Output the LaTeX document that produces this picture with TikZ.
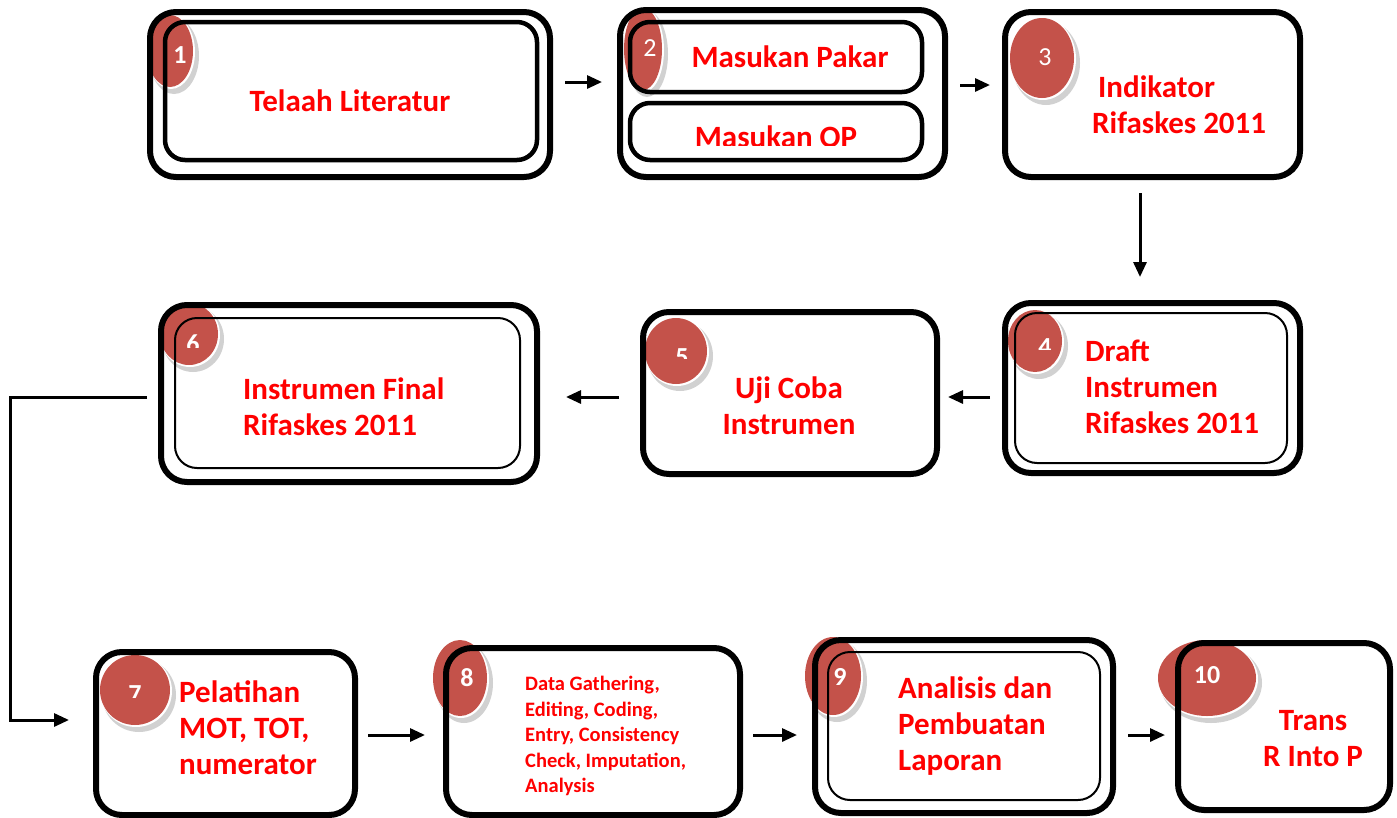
\documentclass[tikz,border=0pt]{standalone}
\usepackage{fontspec}
\setmainfont{Carlito}
\usetikzlibrary{arrows.meta}
\definecolor{txtred}{RGB}{255,0,0}
\definecolor{badgered}{RGB}{196,82,74}
\tikzset{
  box/.style={draw,line width=6pt,rounded corners=26pt,inner sep=0pt},
  inbox/.style={draw,line width=4.5pt,rounded corners=20pt,inner sep=0pt},
  thinbox/.style={draw,line width=2pt,rounded corners=22pt,inner sep=0pt},
  lbl/.style={text=txtred,font=\bfseries\fontsize{31}{36}\selectfont,inner sep=0pt},
  small lbl/.style={text=txtred,font=\bfseries\fontsize{20.5}{25.5}\selectfont,inner sep=0pt,align=left},
  num/.style={text=white,inner sep=0pt},
  flow/.style={-{Triangle[length=15pt,width=13pt]},line width=3pt},
}

\begin{document}
\begin{tikzpicture}[x=1pt,y=-1pt]
  \useasboundingbox (0,0) rectangle (1397,817);
  % badges
  \foreach \cx/\cy/\rx/\ry in {170/51/23/36,643/49/19/41,1042/58/32/40,1035/341/27/31,
      676/351/31/33,189/334/29/31,135/690/35/35,460/678/27/38,833/676/28/39,1207/678/49/38}{
    \fill[black!18] (\cx+4,\cy+5) ellipse ({\rx+2} and {\ry+2});
    \fill[white] (\cx+1,\cy+1) ellipse ({\rx+1} and {\ry+1});
    \fill[badgered] (\cx,\cy) ellipse ({\rx} and {\ry});
  }
  % boxes
  \node[box,minimum width=400pt,minimum height=165pt] (b1) at (350,94.5) {};
  \node[inbox,minimum width=372pt,minimum height=138pt] (b1i) at (351,91) {};
  \node[box,minimum width=325pt,minimum height=167pt] (b2) at (782.5,93.5) {};
  \node[inbox,minimum width=292pt,minimum height=70pt] (b2a) at (776,57) {};
  \node[inbox,minimum width=292pt,minimum height=57pt] (b2b) at (776,131.5) {};
  \node[box,minimum width=295pt,minimum height=165pt] (b3) at (1152.5,94.5) {};
  \node[box,minimum width=295pt,minimum height=170pt] (b4) at (1152.5,388) {};
  \node[thinbox,minimum width=272pt,minimum height=150pt] (b4i) at (1151,388) {};
  \node[box,minimum width=294pt,minimum height=162pt] (b5) at (790,393) {};
  \node[box,minimum width=376pt,minimum height=177pt] (b6) at (349,393.5) {};
  \node[thinbox,minimum width=345pt,minimum height=150pt] (b6i) at (347.5,393) {};
  \node[box,minimum width=259pt,minimum height=163pt] (b7) at (225.5,733.5) {};
  \node[box,minimum width=294pt,minimum height=167pt] (b8) at (593,731.5) {};
  \node[box,minimum width=298pt,minimum height=173pt] (b9) at (964,726.5) {};
  \node[thinbox,minimum width=272pt,minimum height=148pt] (b9i) at (964,726) {};
  \node[box,minimum width=212pt,minimum height=167pt] (b10) at (1284,726.5) {};
  % numbers
  \foreach \nx/\ny/\n/\w/\cut in {180/55/1/b/999,650/48/2/m/999,1045/57/3/m/999,1045/347/4/b/349,
      682/357/5/b/358,193/344/6/b/347,135/694/7/b/697,467/678/8/b/999,840/677/9/b/999,1207/675/10/b/999}{
    \begin{scope}
      \clip (\nx-30,\ny-30) rectangle (\nx+30,\cut);
      \node[num,font=\fontseries{\w}\selectfont\fontsize{26}{30}\selectfont] (n\n) at (\nx,\ny) {\n};
    \end{scope}
  }
  % texts
  \node[lbl] (t1) at (350,101) {Telaah Literatur};
  \node[lbl] (t2a) at (790,57) {Masukan Pakar};
  \begin{scope}
    \clip (630,105) rectangle (922,145);
    \node[lbl] (t2b) at (776,137) {Masukan OP};
  \end{scope}
  \node[lbl,align=left,anchor=west] (t3) at (1092,105) {\hspace{6pt}Indikator\\Rifaskes 2011};
  \node[lbl,align=left,anchor=west] (t4) at (1085,387) {Draft\\Instrumen\\Rifaskes 2011};
  \node[lbl,align=center] (t5) at (789,406) {Uji Coba\\Instrumen};
  \node[lbl,align=left,anchor=west] (t6) at (243,407) {Instrumen Final\\Rifaskes 2011};
  \node[lbl,align=left,anchor=west] (t7) at (179,728) {Pelatihan\\MOT, TOT,\\numerator};
  \node[small lbl,anchor=west] (t8) at (525,736) {Data Gathering,\\Editing, Coding,\\Entry, Consistency\\Check, Imputation,\\Analysis};
  \node[lbl,align=left,anchor=west] (t9) at (898,726) {Analisis dan\\Pembuatan\\Laporan};
  \node[lbl,align=center] (t10) at (1313,739) {Trans\\R Into P};
  % arrows
  \draw[flow,shorten <=12pt,shorten >=15pt] ([yshift=12.5pt]b1.east) -- ([yshift=12.5pt]b1.east -| b2.west);
  \draw[flow,shorten <=12pt,shorten >=12pt] ([yshift=8.5pt]b2.east) -- ([yshift=8.5pt]b2.east -| b3.west);
  \draw[flow,shorten <=13pt,shorten >=23pt] ([xshift=-12.5pt]b3.south) -- ([xshift=-12.5pt]b3.south |- b4.north);
  \draw[flow,shorten <=12pt,shorten >=8pt] ([yshift=-9pt]b4.west) -- ([yshift=-9pt]b4.west -| b5.east);
  \draw[flow,shorten <=21pt,shorten >=26pt] ([yshift=-4pt]b5.west) -- ([yshift=-4pt]b5.west -| b6.east);
  \draw[flow,shorten <=11pt,shorten >=24pt] ([yshift=-3.5pt]b6.west) -- +(-148pt,0) |- ([yshift=13.5pt]b7.west);
  \draw[flow,shorten <=10pt,shorten >=18pt] ([yshift=-1.5pt]b7.east) -- ([yshift=-1.5pt]b7.east -| b8.west);
  \draw[flow,shorten <=10pt,shorten >=15pt] ([yshift=-3.5pt]b8.east) -- ([yshift=-3.5pt]b8.east -| b9.west);
  \draw[flow,shorten <=12pt,shorten >=10pt] ([yshift=-8.5pt]b9.east) -- ([yshift=-8.5pt]b9.east -| b10.west);
\end{tikzpicture}
\end{document}
